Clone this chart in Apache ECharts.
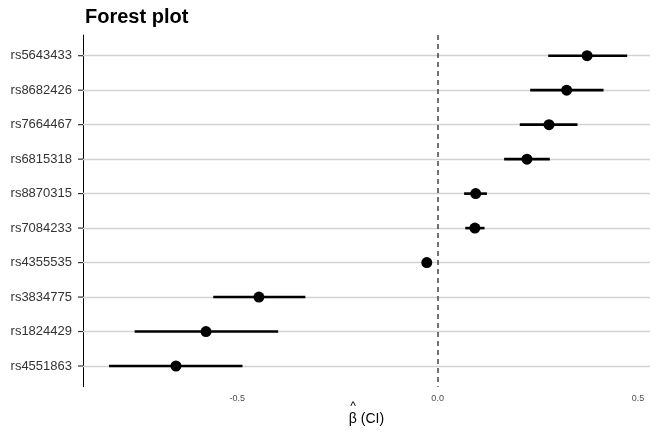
<!DOCTYPE html>
<html>
<head>
<meta charset="utf-8">
<script src="https://cdn.jsdelivr.net/npm/echarts@6/dist/echarts.min.js"></script>
<style>
  html, body { margin: 0; padding: 0; background: #fff; }
  #chart { width: 660px; height: 440px; }
</style>
</head>
<body>
<div id="chart"></div>
<script>
// SNP effect estimates, top row first
const snps = ['rs5643433', 'rs8682426', 'rs7664467', 'rs6815318', 'rs8870315',
  'rs7084233', 'rs4355535', 'rs3834775', 'rs1824429', 'rs4551863'];
const beta = [0.373, 0.322, 0.278, 0.223, 0.095, 0.093, -0.027, -0.446, -0.578, -0.653];
const lower = [0.276, 0.231, 0.205, 0.166, 0.066, 0.069, -0.035, -0.560, -0.756, -0.820];
const upper = [0.473, 0.414, 0.349, 0.280, 0.123, 0.117, -0.019, -0.330, -0.398, -0.487];
const xTicks = [-0.5, 0, 0.5];

const rows = snps.map((s, i) => i);
const font = 'Liberation Sans, Arial, sans-serif';

const chart = echarts.init(document.getElementById('chart'));

chart.setOption({
  animation: false,
  title: {
    text: 'Forest plot',
    left: 80,
    top: 2,
    textStyle: { fontFamily: font, fontSize: 20, fontWeight: 'bold', color: '#000' }
  },
  grid: { left: 83, right: 10, top: 35, bottom: 53.3 },
  xAxis: {
    type: 'value',
    min: -0.885,
    max: 0.53,
    axisLine: { show: false },
    axisTick: { show: false },
    splitLine: { show: false },
    axisLabel: {
      customValues: xTicks,
      formatter: v => v.toFixed(1),
      fontFamily: font,
      fontSize: 9,
      color: '#4d4d4d',
      margin: 7
    },
    // beta with a hat over it
    name: '{h|^}\n{t|β (CI)}',
    nameLocation: 'middle',
    nameGap: 15,
    nameMoveOverlap: false,
    nameTextStyle: {
      fontFamily: font,
      color: '#000',
      rich: {
        h: { fontFamily: font, fontSize: 12, lineHeight: 9, color: '#000', padding: [0, 27, 0, 0] },
        t: { fontFamily: font, fontSize: 14, lineHeight: 17, color: '#000' }
      }
    }
  },
  yAxis: {
    type: 'value',
    inverse: true,
    min: -0.6,
    max: snps.length - 1 + 0.6,
    axisLine: { show: true, onZero: false, lineStyle: { color: '#000', width: 1 } },
    axisTick: { show: false },
    splitLine: { show: false },
    axisLabel: {
      customValues: rows,
      formatter: v => snps[v],
      fontFamily: font,
      fontSize: 13,
      color: '#333',
      margin: 11
    }
  },
  series: [
    {
      // horizontal guides and the zero line
      type: 'scatter',
      data: [],
      z: 1,
      markLine: {
        silent: true,
        z: 1,
        symbol: 'none',
        label: { show: false },
        emphasis: { disabled: true },
        data: rows.map(i => ({ yAxis: i, lineStyle: { color: '#d3d3d3', width: 1.3, type: 'solid' } }))
          .concat([{ xAxis: 0, lineStyle: { color: '#444', width: 1.5, type: [5, 4] } }])
      }
    },
    {
      // short ticks left of the y axis line, one per row
      type: 'custom',
      z: 2,
      silent: true,
      clip: false,
      data: rows.map(i => [i]),
      encode: { y: 0 },
      renderItem: (params, api) => {
        const x0 = params.coordSys.x;
        const y = api.coord([0, api.value(0)])[1];
        return {
          type: 'line',
          shape: { x1: x0 - 5, y1: y, x2: x0, y2: y },
          style: { stroke: '#333', lineWidth: 1.2 }
        };
      }
    },
    {
      type: 'custom',
      z: 3,
      data: rows.map(i => [lower[i], upper[i], i]),
      encode: { x: [0, 1], y: 2 },
      renderItem: (params, api) => {
        const a = api.coord([api.value(0), api.value(2)]);
        const b = api.coord([api.value(1), api.value(2)]);
        return {
          type: 'line',
          shape: { x1: a[0], y1: a[1], x2: b[0], y2: b[1] },
          style: { stroke: '#000', lineWidth: 2.6 }
        };
      }
    },
    {
      type: 'scatter',
      z: 4,
      symbol: 'circle',
      symbolSize: 11,
      itemStyle: { color: '#000', opacity: 1 },
      data: rows.map(i => [beta[i], i])
    }
  ]
});
</script>
</body>
</html>
